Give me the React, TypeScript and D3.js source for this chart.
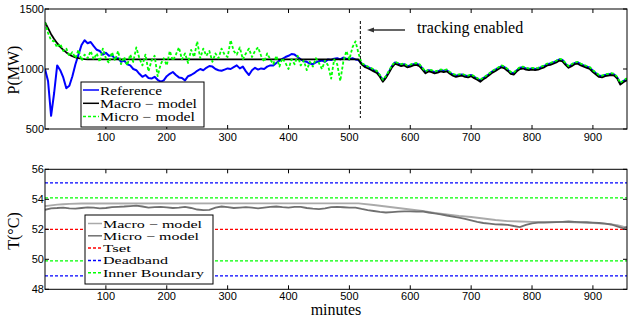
import * as d3 from "d3";
import React from "react";

// minutes sampled every 5 min for the power traces
const minutes5 = d3.range(0, 961, 5);

// P(MW), reference signal
const referenceMW = [
  1000, 900, 610, 800, 1030, 990, 930, 840, 860, 940,
  1040, 1120, 1200, 1240, 1215, 1225, 1190, 1160, 1150, 1120,
  1135, 1110, 1115, 1085, 1090, 1060, 1070, 1040, 1030, 1000,
  990, 960, 935, 950, 925, 920, 935, 910, 895, 905,
  940, 960, 975, 950, 930, 925, 905, 940, 950, 965,
  985, 1000, 990, 1010, 1025, 1020, 1000, 990, 985, 995,
  1005, 1000, 1015, 1030, 1005, 1020, 980, 950, 990, 1010,
  995, 1005, 1000, 1020, 1030, 1030, 1050, 1070, 1085, 1100,
  1110, 1125, 1120, 1100, 1080, 1065, 1060, 1045, 1040, 1055,
  1065, 1070, 1060, 1080, 1075, 1085, 1090, 1080, 1095, 1085,
  1080, 1090, 1080, 1075,
  1044, 1030, 1016, 1004, 990, 978, 946, 905, 936, 978,
  1025, 1054, 1045, 1035, 1040, 1024, 1030, 1040, 1044, 1034,
  1004, 975, 990, 985, 974, 980, 990, 985, 990, 970,
  954, 944, 950, 954, 945, 940, 950, 934, 920, 905,
  925, 940, 960, 980, 995, 1010, 1025, 1015, 995, 970,
  965, 990, 1010, 1015, 1005, 1000, 1005, 1000, 1004, 1015,
  1025, 1040, 1045, 1055, 1065, 1080, 1075, 1045, 1020, 1035,
  1050, 1055, 1040, 1030, 1020, 1010, 985, 965, 945, 940,
  950, 955, 960, 955, 930, 880, 900, 915, 910,
];

// P(MW), micro-model
const microMW = [
  1390, 1300, 1240, 1230, 1180, 1210, 1150, 1170, 1110, 1140,
  1090, 1160, 1070, 1120, 1090, 1150, 1080, 1130, 1060, 1170,
  1090, 1050, 1140, 1070, 1150, 1040, 1100, 1030, 1120, 1060,
  1180, 1090, 1030, 1120, 980, 1070, 1110, 940, 1040, 1090,
  1030, 1150, 1070, 1120, 1180, 1080, 1130, 1050, 1160, 1100,
  1230, 1090, 1170, 1110, 1150, 1060, 1130, 1090, 1170, 1120,
  1100, 1240, 1150, 1120, 1180, 1080, 1130, 1170, 1100, 1150,
  1180, 1110, 1060, 1130, 1080, 1040, 1110, 1020, 1090, 1050,
  1000, 1080, 1040, 1110, 1030, 1070, 990, 1060, 1020, 1090,
  1050, 1000, 1070, 1030, 920, 1080, 1040, 900, 1060, 1150,
  1080, 1180, 1230, 1130,
  1050, 1035, 1022, 1010, 996, 985, 952, 910, 942, 985,
  1030, 1060, 1050, 1040, 1046, 1030, 1036, 1046, 1050, 1040,
  1010, 980, 996, 990, 980, 986, 996, 990, 996, 975,
  960, 950, 955, 960, 950, 945, 955, 940, 925, 910,
  930, 945, 965, 985, 1000, 1015, 1030, 1020, 1000, 975,
  970, 995, 1015, 1020, 1010, 1005, 1010, 1005, 1010, 1020,
  1030, 1045, 1050, 1060, 1070, 1085, 1080, 1050, 1025, 1040,
  1055, 1060, 1045, 1035, 1025, 1015, 990, 970, 950, 945,
  955, 960, 965, 960, 935, 885, 905, 920, 915,
];

// P(MW), macro-model
const macroMinutes = [...d3.range(0, 71, 5), 515, ...d3.range(520, 961, 5)];
const macroMW = [
  1390, 1340, 1290, 1250, 1215, 1185, 1160, 1138, 1120, 1106,
  1096, 1090, 1086, 1083, 1081, 1080,
  1040, 1018, 1006, 994, 980, 968, 936, 894, 926, 968,
  1014, 1044, 1034, 1024, 1030, 1014, 1020, 1030, 1034, 1024,
  994, 964, 980, 974, 964, 970, 980, 974, 980, 960,
  944, 934, 940, 944, 934, 930, 940, 924, 910, 894,
  914, 930, 950, 970, 984, 1000, 1014, 1004, 984, 960,
  954, 980, 1000, 1004, 994, 990, 994, 990, 994, 1004,
  1014, 1030, 1034, 1044, 1054, 1070, 1064, 1034, 1010, 1024,
  1040, 1044, 1030, 1020, 1010, 1000, 974, 954, 934, 930,
  940, 944, 950, 944, 920, 870, 890, 904, 900,
];

// temperature traces
const macroTMinutes = [0, 10, 20, 30, 40, 60, 515, 540, 560, 580, 600, 620, 640, 660, 680, 700, 720, 740, 760, 780, 800, 820, 840, 860, 880, 900, 920, 940, 950, 960];
const macroTemp = [53.55, 53.6, 53.64, 53.67, 53.7, 53.72, 53.73, 53.62, 53.52, 53.42, 53.32, 53.22, 53.1, 53.0, 52.9, 52.82, 52.72, 52.62, 52.55, 52.52, 52.5, 52.5, 52.5, 52.48, 52.45, 52.42, 52.38, 52.28, 52.18, 52.12];

const minutes10 = d3.range(0, 961, 10);
const microTemp = [
  53.3, 53.4, 53.42, 53.45, 53.4, 53.38, 53.42, 53.46, 53.44, 53.4,
  53.42, 53.48, 53.5, 53.52, 53.55, 53.58, 53.52, 53.45, 53.48, 53.5,
  53.46, 53.42, 53.45, 53.5, 53.42, 53.32, 53.28, 53.3, 53.45, 53.52,
  53.48, 53.42, 53.45, 53.48, 53.44, 53.4, 53.45, 53.5, 53.52, 53.48,
  53.45, 53.5, 53.5, 53.42, 53.38, 53.35, 53.4, 53.48, 53.5, 53.47,
  53.44, 53.45, 53.36, 53.28, 53.22, 53.16, 53.12, 53.15, 53.18, 53.2,
  53.19, 53.18, 53.2, 53.12, 53.06, 53.0, 52.92, 52.85, 52.78, 52.7,
  52.6, 52.5, 52.42, 52.38, 52.33, 52.32, 52.3, 52.22, 52.15, 52.3,
  52.4, 52.45, 52.44, 52.46, 52.48, 52.5, 52.52, 52.5, 52.48, 52.47,
  52.45, 52.42, 52.38, 52.32, 52.2, 52.07, 52.2,
];

const tset = 52;
const deadband = [55.1, 48.9];
const innerBoundary = [54.1, 49.9];
const trackingStart = 518;

const xTicks = [100, 200, 300, 400, 500, 600, 700, 800, 900];
const pTicks = [500, 1000, 1500];
const tTicks = [48, 50, 52, 54, 56];

const sans = "Liberation Sans, Arial, sans-serif";
const serif = "Liberation Serif, Times New Roman, serif";

const App: React.FC = () => {
  const left = 45;
  const right = 627;
  const x = d3.scaleLinear().domain([0, 956]).range([left, right]);
  const yP = d3.scaleLinear().domain([500, 1500]).range([129, 9]);
  const yT = d3.scaleLinear().domain([48, 56]).range([289.3, 169.3]);

  const lineP = (ts: number[], vs: number[]) =>
    d3.line<number>().x((_, i) => x(ts[i])).y(d => yP(d))(vs) || "";
  const lineT = (ts: number[], vs: number[]) =>
    d3.line<number>().x((_, i) => x(ts[i])).y(d => yT(d))(vs) || "";

  const axesBox = (y0: number, y1: number, yScale: d3.ScaleLinear<number, number>, yTicks: number[], labelY: number) => (
    <g>
      <rect x={left} y={y0} width={right - left} height={y1 - y0} fill="none" stroke="black" strokeWidth={1} />
      {xTicks.map(t => (
        <g key={"x" + t}>
          <line x1={x(t)} x2={x(t)} y1={y1} y2={y1 - 4} stroke="black" />
          <line x1={x(t)} x2={x(t)} y1={y0} y2={y0 + 4} stroke="black" />
          <text x={x(t)} y={labelY} textAnchor="middle" fontFamily={sans} fontSize={11}>{t}</text>
        </g>
      ))}
      {yTicks.map(t => (
        <g key={"y" + t}>
          <line x1={left} x2={left + 4} y1={yScale(t)} y2={yScale(t)} stroke="black" />
          <line x1={right} x2={right - 4} y1={yScale(t)} y2={yScale(t)} stroke="black" />
          <text x={left - 1} y={yScale(t) + 4} textAnchor="end" fontFamily={sans} fontSize={11}>{t}</text>
        </g>
      ))}
    </g>
  );

  const topLegend = [
    { label: "Reference", color: "#0000ff", dash: "none", w: 62 },
    { label: "Macro \u2212 model", color: "black", dash: "none", w: 97 },
    { label: "Micro \u2212 model", color: "#00ff00", dash: "3,2", w: 95 },
  ];
  const bottomLegend = [
    { label: "Macro \u2212 model", color: "#aaaaaa", dash: "none", w: 99 },
    { label: "Micro \u2212 model", color: "#707070", dash: "none", w: 96 },
    { label: "Tset", color: "#ff0000", dash: "3,2", w: 28 },
    { label: "Deadband", color: "#0000ff", dash: "3,2", w: 65 },
    { label: "Inner Boundary", color: "#00ff00", dash: "3,2", w: 101 },
  ];

  return (
    <svg width={628} height={320} style={{ position: "absolute", left: 0, top: 0, background: "white" }}>
      <defs>
        <clipPath id="clipTop"><rect x={left} y={9} width={right - left} height={120} /></clipPath>
        <clipPath id="clipBottom"><rect x={left} y={169.3} width={right - left} height={120} /></clipPath>
      </defs>

      {/* power panel */}
      <g clipPath="url(#clipTop)" fill="none" strokeLinejoin="round">
        <path d={lineP(minutes5, referenceMW)} stroke="#0000ff" strokeWidth={2} />
        <path d={lineP(macroMinutes, macroMW)} stroke="black" strokeWidth={1.8} />
        <path d={lineP(minutes5, microMW)} stroke="#00ff00" strokeWidth={1.8} strokeDasharray="3,2" />
      </g>
      {axesBox(9, 129, yP, pTicks, 141)}
      <line x1={x(trackingStart)} x2={x(trackingStart)} y1={21} y2={118} stroke="black" strokeDasharray="3,2" />
      <line x1={405} x2={372} y1={30} y2={30} stroke="#333" strokeWidth={1.5} />
      <path d="M367,30 L374,27.5 L374,32.5 Z" fill="#333" />
      <text x={417} y={33} fontFamily={serif} fontSize={16}>tracking enabled</text>
      <text transform="translate(19,70) rotate(-90)" textAnchor="middle" fontFamily={serif} fontSize={16}>P(MW)</text>

      <g>
        <rect x={81} y={82} width={123} height={45} fill="white" stroke="black" />
        {topLegend.map((d, i) => (
          <g key={d.label}>
            <line x1={83} x2={99} y1={90 + i * 13.3} y2={90 + i * 13.3} stroke={d.color} strokeWidth={1.5} strokeDasharray={d.dash} />
            <text x={100} y={94.5 + i * 13.3} fontFamily={serif} fontSize={12} textLength={d.w} lengthAdjust="spacingAndGlyphs">{d.label}</text>
          </g>
        ))}
      </g>

      {/* temperature panel */}
      <g clipPath="url(#clipBottom)" fill="none">
        {deadband.map(v => (
          <line key={"d" + v} x1={left} x2={right} y1={yT(v)} y2={yT(v)} stroke="#0000ff" strokeWidth={1.2} strokeDasharray="3,2" />
        ))}
        {innerBoundary.map(v => (
          <line key={"i" + v} x1={left} x2={right} y1={yT(v)} y2={yT(v)} stroke="#00ff00" strokeWidth={1.2} strokeDasharray="3,2" />
        ))}
        <line x1={left} x2={right} y1={yT(tset)} y2={yT(tset)} stroke="#ff0000" strokeWidth={1.2} strokeDasharray="3,2" />
        <path d={lineT(macroTMinutes, macroTemp)} stroke="#aaaaaa" strokeWidth={1.8} />
        <path d={lineT(minutes10, microTemp)} stroke="#707070" strokeWidth={1.8} />
      </g>
      {axesBox(169.3, 289.3, yT, tTicks, 300)}
      <text transform="translate(19,231) rotate(-90)" textAnchor="middle" fontFamily={serif} fontSize={16}>T(°C)</text>
      <text x={336} y={315} textAnchor="middle" fontFamily={serif} fontSize={16}>minutes</text>

      <g>
        <rect x={85} y={215} width={128} height={69} fill="white" stroke="black" />
        {bottomLegend.map((d, i) => (
          <g key={d.label}>
            <line x1={88} x2={102} y1={223.5 + i * 12.3} y2={223.5 + i * 12.3} stroke={d.color} strokeWidth={1.5} strokeDasharray={d.dash} />
            <text x={103} y={227.5 + i * 12.3} fontFamily={serif} fontSize={11} textLength={d.w} lengthAdjust="spacingAndGlyphs">{d.label}</text>
          </g>
        ))}
      </g>
    </svg>
  );
};

export default App;
